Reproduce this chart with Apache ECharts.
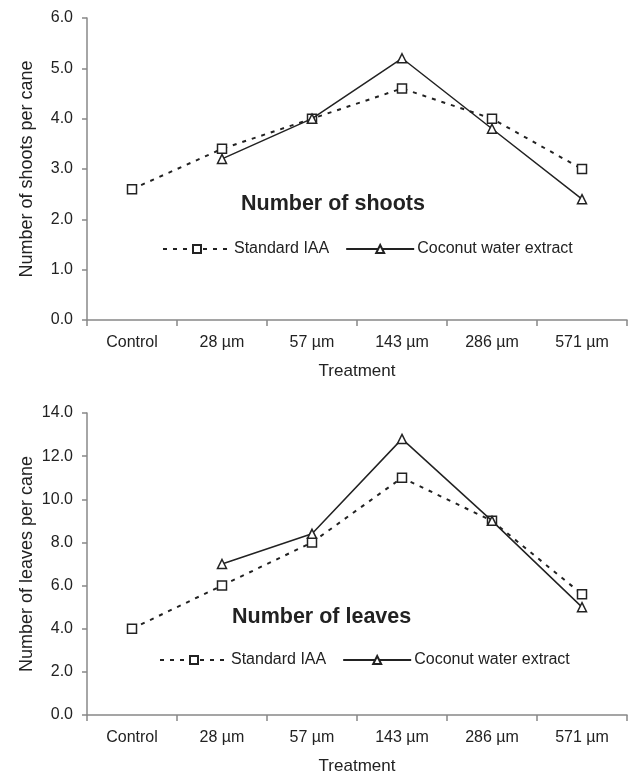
<!DOCTYPE html>
<html>
<head>
<meta charset="utf-8">
<script src="https://cdn.jsdelivr.net/npm/echarts@6/dist/echarts.min.js"></script>
<style>
  html, body { margin: 0; padding: 0; background: #fff; }
  #chart { width: 630px; height: 772px; }
</style>
</head>
<body>
<div id="chart"></div>
<script>
// treatments on x axis
var treatments = ['Control', '28 \u00b5m', '57 \u00b5m', '143 \u00b5m', '286 \u00b5m', '571 \u00b5m'];

// number of shoots per cane
var shootsIAA = [2.6, 3.4, 4.0, 4.6, 4.0, 3.0];
var shootsCoconut = [null, 3.2, 4.0, 5.2, 3.8, 2.4];

// number of leaves per cane
var leavesIAA = [4.0, 6.0, 8.0, 11.0, 9.0, 5.6];
var leavesCoconut = [null, 7.0, 8.4, 12.8, 9.0, 5.0];

var font = 'Liberation Sans, Arial, sans-serif';
var ink = '#222';
var axisGrey = '#888';

function xAxisFor(idx) {
  return {
    type: 'category',
    gridIndex: idx,
    data: treatments,
    name: 'Treatment',
    nameLocation: 'middle',
    nameGap: 43,
    nameMoveOverlap: false,
    nameTextStyle: { fontFamily: font, fontSize: 17, color: ink },
    axisLine: { lineStyle: { color: axisGrey, width: 1.5 } },
    axisTick: { show: true, length: 6, lineStyle: { color: axisGrey, width: 1.5 } },
    axisLabel: { fontFamily: font, fontSize: 16, color: ink, margin: 15 }
  };
}

function yAxisFor(idx, max, step, title) {
  return {
    type: 'value',
    gridIndex: idx,
    min: 0,
    max: max,
    interval: step,
    name: title,
    nameLocation: 'middle',
    nameGap: 51,
    nameMoveOverlap: false,
    nameTextStyle: { fontFamily: font, fontSize: 18, color: ink },
    axisLine: { show: true, lineStyle: { color: axisGrey, width: 1.5 } },
    axisTick: { show: true, length: 5, lineStyle: { color: axisGrey, width: 1.5 } },
    splitLine: { show: false },
    axisLabel: {
      fontFamily: font, fontSize: 16, color: ink, margin: 14,
      formatter: function (v) { return v.toFixed(1); }
    }
  };
}

function iaaSeries(idx, values) {
  return {
    name: 'Standard IAA',
    type: 'line',
    xAxisIndex: idx, yAxisIndex: idx,
    data: values,
    symbol: 'rect',
    symbolSize: 9,
    showAllSymbol: true,
    lineStyle: { color: ink, width: 2, type: [4, 6] },
    itemStyle: { color: '#fff', borderColor: ink, borderWidth: 1.5 },
    emphasis: { disabled: true },
    z: 3
  };
}

function coconutSeries(idx, values) {
  return {
    name: 'Coconut water extract',
    type: 'line',
    xAxisIndex: idx, yAxisIndex: idx,
    data: values,
    symbol: 'triangle',
    symbolSize: 9,
    showAllSymbol: true,
    lineStyle: { color: ink, width: 1.5, type: 'solid' },
    itemStyle: { color: '#fff', borderColor: ink, borderWidth: 1.5 },
    emphasis: { disabled: true },
    z: 4
  };
}

function legendAt(top, left) {
  return {
    top: top,
    left: left,
    orient: 'horizontal',
    itemWidth: 68,
    itemHeight: 10,
    itemGap: 16,
    selectedMode: false,
    data: ['Standard IAA', 'Coconut water extract'],
    textStyle: { fontFamily: font, fontSize: 16, color: ink, padding: [0, 0, 0, -2] }
  };
}

var chart = echarts.init(document.getElementById('chart'), null, { renderer: 'canvas' });

chart.setOption({
  animation: false,
  backgroundColor: '#fff',
  title: [
    { text: 'Number of shoots', left: 236, top: 188,
      textStyle: { fontFamily: font, fontSize: 21.5, fontWeight: 'bold', color: ink } },
    { text: 'Number of leaves', left: 227, top: 601,
      textStyle: { fontFamily: font, fontSize: 21.5, fontWeight: 'bold', color: ink } }
  ],
  legend: [legendAt(236, 157), legendAt(647, 154)],
  grid: [
    { left: 87, right: 3, top: 18, height: 302, outerBoundsMode: 'none' },
    { left: 87, right: 3, top: 413, height: 302, outerBoundsMode: 'none' }
  ],
  xAxis: [xAxisFor(0), xAxisFor(1)],
  yAxis: [
    yAxisFor(0, 6, 1, 'Number of shoots per cane'),
    yAxisFor(1, 14, 2, 'Number of leaves per cane')
  ],
  series: [
    iaaSeries(0, shootsIAA),
    coconutSeries(0, shootsCoconut),
    iaaSeries(1, leavesIAA),
    coconutSeries(1, leavesCoconut)
  ]
});
</script>
</body>
</html>
